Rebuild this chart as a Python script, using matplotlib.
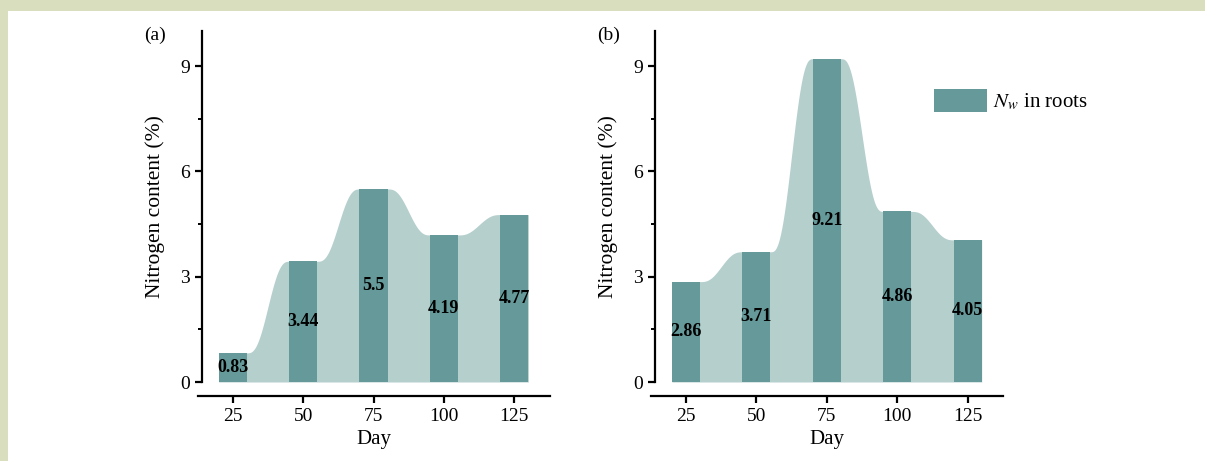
import matplotlib.pyplot as plt
import numpy as np
from matplotlib.patches import Rectangle, Patch

plt.rcParams['font.family'] = ['Liberation Serif', 'DejaVu Serif']
plt.rcParams['mathtext.fontset'] = 'stix'

# data
days = [25, 50, 75, 100, 125]
nw_a = [0.83, 3.44, 5.5, 4.19, 4.77]
nw_b = [2.86, 3.71, 9.21, 4.86, 4.05]
panel_labels = ["(a)", "(b)"]

BAR_COLOR = "#669999"
FILL_COLOR = "#b5cfcd"
BAR_W = 10


def smooth_profile(x, y, w):
    """Flat over each bar, smooth S-curve between neighbouring bars"""
    xs, ys = [], []
    for i in range(len(x)):
        xs += [x[i] - w / 2, x[i] + w / 2]
        ys += [y[i], y[i]]
        if i < len(x) - 1:
            t = np.linspace(0, 1, 60)[1:-1]
            s = 6 * t**5 - 15 * t**4 + 10 * t**3
            xs += list(x[i] + w / 2 + t * (x[i + 1] - x[i] - w))
            ys += list(y[i] + s * (y[i + 1] - y[i]))
    return np.array(xs), np.array(ys)


def draw_panel(ax, values):
    xs, ys = smooth_profile(days, values, BAR_W)
    ax.fill_between(xs, 0, ys, color=FILL_COLOR, lw=0, zorder=1)
    ax.bar(days, values, width=BAR_W, color=BAR_COLOR, lw=0, zorder=2)
    for d, v in zip(days, values):
        ax.text(d, v / 2, f"{v:g}", ha="center", va="center",
                fontsize=13, fontweight="bold", zorder=3)

    ax.set_xlim(12.5, 137.5)
    ax.set_ylim(0, 10)
    ax.set_xticks(days)
    ax.set_yticks([0, 3, 6, 9])
    ax.set_yticks([1.5, 4.5, 7.5], minor=True)
    ax.set_xlabel("Day", fontsize=15, labelpad=4)
    ax.set_ylabel("Nitrogen content (%)", fontsize=15.5, labelpad=11)

    for s in ["top", "right"]:
        ax.spines[s].set_visible(False)
    ax.spines["left"].set_position(("axes", 0.012))
    ax.spines["left"].set_bounds(0, 10)
    ax.spines["bottom"].set_position(("outward", 10))
    for s in ["left", "bottom"]:
        ax.spines[s].set_linewidth(1.6)
    ax.tick_params(axis="both", which="major", labelsize=14, width=1.6, length=5)
    ax.tick_params(axis="y", which="minor", width=1.4, length=3)


fig = plt.figure(figsize=(12.05, 4.61), dpi=100)
fig.patch.set_facecolor("#d9dfbe")
fig.add_artist(Rectangle((8 / 1205, 0), 1 - 8 / 1205, 450 / 461,
                         transform=fig.transFigure, facecolor="white",
                         edgecolor="none", zorder=-10))

bottom = 79 / 461
height = 351 / 461
ax1 = fig.add_axes([197.5 / 1205, bottom, 352 / 1205, height])
ax2 = fig.add_axes([650.8 / 1205, bottom, 352 / 1205, height])
for ax in (ax1, ax2):
    ax.patch.set_alpha(0)

draw_panel(ax1, nw_a)
draw_panel(ax2, nw_b)

fig.text(155 / 1205, 1 - 35 / 461, panel_labels[0], ha="center", va="center", fontsize=14)
fig.text(609 / 1205, 1 - 35 / 461, panel_labels[1], ha="center", va="center", fontsize=14)

handle = Patch(facecolor=BAR_COLOR, edgecolor="none")
ax2.legend([handle], [r"$N_w$ in roots"], loc="center left",
           bbox_to_anchor=(934 / 1205, 1 - 101 / 461), bbox_transform=fig.transFigure,
           frameon=False, fontsize=15, handlelength=2.55, handleheight=1.25,
           handletextpad=0.3, borderaxespad=0, borderpad=0)

fig.savefig("out.png", dpi=100)
